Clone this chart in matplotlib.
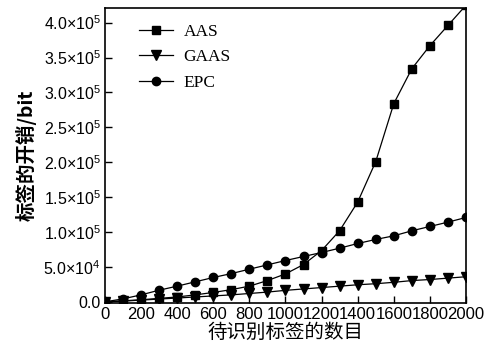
import numpy as np
import matplotlib
matplotlib.use("Agg")
import matplotlib.pyplot as plt
from matplotlib.ticker import FuncFormatter, MultipleLocator

plt.rcParams['font.family'] = ['Liberation Sans', 'Noto Sans CJK SC', 'DejaVu Sans']
plt.rcParams['mathtext.fontset'] = 'custom'
plt.rcParams['mathtext.rm'] = 'Liberation Sans'
plt.rcParams['mathtext.it'] = 'Liberation Sans'

# number of tags to identify
n_tags = [0, 100, 200, 300, 400, 500, 600, 700, 800, 900, 1000,
          1100, 1200, 1300, 1400, 1500, 1600, 1700, 1800, 1900, 2000]

aas = [0, 1500, 3000, 5000, 7000, 10000, 13500, 17500, 22500, 30500, 40000,
       53500, 73500, 102000, 143000, 201000, 284000, 334000, 367000, 396000, 425000]
gaas = [0, 1000, 2500, 4000, 5500, 7000, 8500, 10000, 12000, 14000, 16500,
        18500, 20500, 22500, 24500, 26000, 28000, 30500, 32000, 34000, 36000]
epc = [0, 4300, 10000, 16700, 22500, 28700, 34900, 40500, 46800, 53000, 59200,
       65000, 70700, 76900, 83600, 89400, 94600, 101800, 108000, 114200, 120900]

fig = plt.figure(figsize=(4.88, 3.45), dpi=100)
ax = fig.add_axes([0.215, 0.122, 0.740, 0.855])

ax.plot(n_tags, aas, 'k-', marker='s', ms=5.5, lw=0.9, label='AAS')
ax.plot(n_tags, gaas, 'k-', marker='v', ms=6.5, lw=0.9, label='GAAS')
ax.plot(n_tags, epc, 'k-', marker='o', ms=6, lw=0.9, label='EPC')

ax.set_xlim(0, 2000)
ax.set_ylim(-1500, 421000)
ax.xaxis.set_major_locator(MultipleLocator(200))
ax.yaxis.set_major_locator(MultipleLocator(50000))


def yfmt(v, pos):
    if v <= 0:
        return '0.0'
    e = int(np.floor(np.log10(v)))
    m = v / 10 ** e
    return r'%.1f$\times$10$^{%d}$' % (m, e)


ax.yaxis.set_major_formatter(FuncFormatter(yfmt))
ax.tick_params(direction='in', length=5, width=1, labelsize=12, pad=3)
ax.tick_params(axis='y', labelsize=11.5)
for s in ax.spines.values():
    s.set_linewidth(1.2)

ax.set_xlabel('待识别标签的数目', fontsize=14, family=['Noto Sans CJK SC'], labelpad=0)
ax.set_ylabel('标签的开销/bit', fontsize=14, family=['Noto Sans CJK SC', 'Liberation Sans'],
              fontweight='bold', labelpad=5)

ax.legend(loc='upper left', bbox_to_anchor=(0.05, 1.0), frameon=False,
          prop={'family': 'Liberation Serif', 'size': 12.5}, handlelength=2.0,
          labelspacing=0.55, handletextpad=0.6)

fig.savefig('out.png', dpi=100)
